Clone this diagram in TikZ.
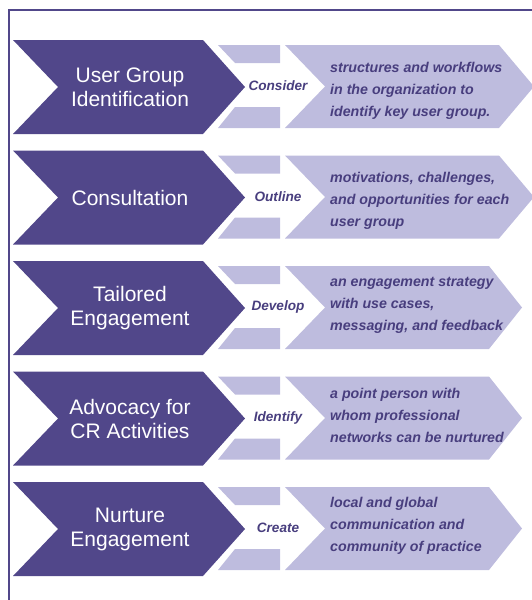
\documentclass[tikz,border=0pt]{standalone}
\usepackage{fontspec}
\setmainfont{Liberation Sans}
\definecolor{darkp}{HTML}{51478A}
\definecolor{lightp}{HTML}{BEBCDE}
\definecolor{txtp}{HTML}{483E7E}
\begin{document}
\begin{tikzpicture}[x=1pt,y=-1pt,
  stagetext/.style={text=white, align=center, font=\fontsize{21}{24}\selectfont, inner sep=0pt},
  verbtext/.style={text=txtp, align=center, font=\fontsize{13.6}{17}\selectfont\bfseries\itshape, inner sep=0pt},
  desctext/.style={text=txtp, align=left, font=\fontsize{14.2}{22}\selectfont\bfseries\itshape, inner sep=0pt},
  darkshape/.style={fill=darkp},
  lightshape/.style={fill=lightp}]
\useasboundingbox (0,0) rectangle (532,600);
\draw[darkp, line width=2.5pt] (532,10) -- (9,10) -- (9,600);
\foreach \i/\t/\rc/\tip/\dy/\A/\B/\C in {
  1/40/499/534/51/{User Group\\Identification}/{Consider}/{structures and workflows\\in the organization to\\identify key user group.},
  2/150.5/499/534/50/{Consultation}/{Outline}/{motivations, challenges,\\and opportunities for each\\user group},
  3/261/489/522/44/{Tailored\\Engagement}/{Develop}/{an engagement strategy\\with use cases,\\messaging, and feedback},
  4/371.5/489/522/44/{Advocacy for\\CR Activities}/{Identify}/{a point person with\\whom professional\\networks can be nurtured},
  5/482/489/522/44/{Nurture\\Engagement}/{Create}/{local and global\\communication and\\community of practice}}{
  \fill[darkshape] (13,\t) -- (203,\t) -- (245,\t+47) -- (203,\t+94) -- (13,\t+94) -- (58,\t+47) -- cycle;
  \fill[lightshape] (218,\t+5) -- (280,\t+5) -- (280,\t+23) -- (235,\t+23) -- cycle;
  \fill[lightshape] (235,\t+67) -- (280,\t+67) -- (280,\t+88) -- (218,\t+88) -- cycle;
  \fill[lightshape] (285,\t+5) -- (\rc,\t+5) -- (\tip,\t+46.5) -- (\rc,\t+88) -- (285,\t+88) -- (325,\t+46.5) -- cycle;
  \node[stagetext] (d\i) at (130,\t+47) {\A};
  \node[verbtext] (v\i) at (278,\t+46) {\B};
  \node[desctext, anchor=west] (t\i) at (330,\t+\dy) {\C};
}
\end{tikzpicture}
\end{document}
